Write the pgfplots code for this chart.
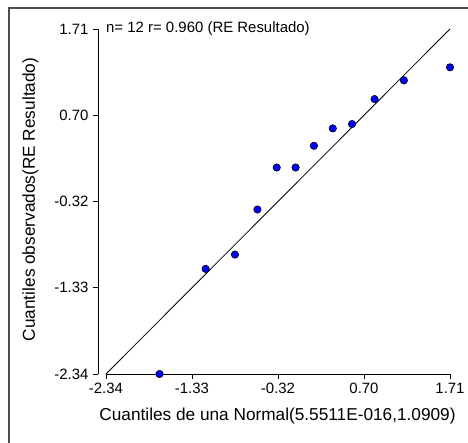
\documentclass[border=0pt]{standalone}
\usepackage{pgfplots}
\pgfplotsset{compat=1.18}
\usepackage{fontspec}
\setmainfont{Liberation Sans}
\begin{document}
\begin{tikzpicture}[x=1bp,y=1bp]
\useasboundingbox (-98,-69) rectangle (370,374);
\draw[line width=1.6bp, black!70] (-89,-90) -- (-89,366) -- (390,366);
\begin{axis}[
  at={(0,0)}, anchor=south west,
  scale only axis, width=352bp, height=345bp,
  xmin=-2.434, xmax=1.71, ymin=-2.34, ymax=1.71,
  axis lines*=left,
  x axis line style={draw=none},
  axis line style={line width=0.8bp, black},
  every tick/.style={line width=0.8bp, black},
  tick align=outside, major tick length=5bp,
  xtick={-2.34,-1.3275,-0.315,0.6975,1.71},
  xticklabels={-2.34,-1.33,-0.32,0.70,1.71},
  ytick={-2.34,-1.3275,-0.315,0.6975,1.71},
  yticklabels={-2.34,-1.33,-0.32,0.70,1.71},
  ticklabel style={font=\fontsize{15}{17}\selectfont},
  xticklabel style={yshift=-1bp},
  yticklabel style={xshift=-1bp},
  xlabel={Cuantiles de una Normal(5.5511E-016,1.0909)},
  ylabel={Cuantiles observados(RE Resultado)},
  label style={font=\fontsize{17.3}{20}\selectfont},
  xlabel style={at={(axis description cs:0.51,-0.122)}, anchor=center},
  ylabel style={at={(axis description cs:-0.192,0.506)}, anchor=center, rotate=0},
  clip=false,
]
\addplot[black, line width=0.8bp] coordinates {(-2.34,-2.34) (1.71,1.71)};
\addplot[only marks, mark=*, mark size=3.7bp, mark options={fill=blue, draw=black, line width=0.6bp}] coordinates {
(-1.71,-2.34) (-1.167,-1.106) (-0.822,-0.938) (-0.557,-0.409) (-0.330,0.084) (-0.108,0.084)
(0.108,0.339) (0.330,0.543) (0.557,0.594) (0.822,0.887) (1.167,1.107) (1.71,1.260)};
\draw[black, line width=0.8bp] (axis cs:-2.34,-2.34) -- (axis cs:1.71,-2.34);
\node[anchor=west, inner sep=0pt, font=\fontsize{15}{17}\selectfont] at (axis cs:-2.34,1.71) {n= 12 r= 0.960 (RE Resultado)};
\end{axis}
\end{tikzpicture}
\end{document}
